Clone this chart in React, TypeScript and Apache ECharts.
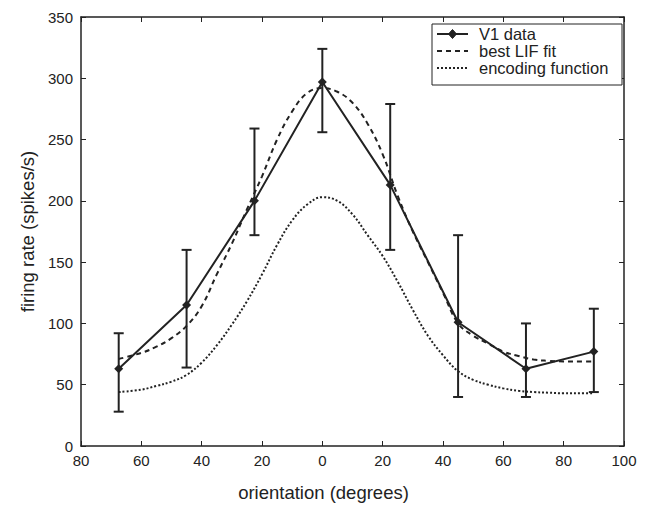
import React, { useEffect, useRef } from "react";
import * as echarts from "echarts";

const xTicks = [-80, -60, -40, -20, 0, 20, 40, 60, 80, 100];
const v1X = [-67.5, -45, -22.5, 0, 22.5, 45, 67.5, 90];
const v1Rate = [63, 115, 200, 297, 213, 101, 63, 77];
const v1Lower = [28, 64, 172, 256, 160, 40, 40, 44];
const v1Upper = [92, 160, 259, 324, 279, 172, 100, 112];

const curveX = [-67.5, -60, -55, -50, -45, -40, -35, -30, -25, -20, -15, -10, -5, 0, 5, 10, 15, 20, 25, 30, 35, 40, 45, 50, 55, 60, 65, 70, 75, 80, 85, 90];
const lifFit = [71, 76, 81, 88, 98, 114, 140, 165, 193, 220, 250, 273, 288, 292, 289, 280, 263, 238, 204, 175, 150, 125, 100, 90, 83.5, 77, 73.5, 70.5, 69.5, 69, 69, 69];
const encoding = [44, 46, 49, 52.5, 58, 68, 82, 99, 118, 140, 164, 184, 197, 203, 200, 189, 172, 155, 134, 111, 90, 74, 61, 54, 50, 47, 45, 44, 43.5, 43, 43, 43];

const legendNames = ["V1 data", "best LIF fit", "encoding function"];

const INK = "#222";
const FONT = "'Liberation Sans', Arial, Helvetica, sans-serif";

export default function App() {
  const ref = useRef<HTMLDivElement>(null);
  useEffect(() => {
    if (!ref.current) return;
    const chart = echarts.init(ref.current, null, { renderer: "svg" });
    const axisCommon = {
      type: "value" as const,
      axisLine: { show: true, onZero: false, lineStyle: { color: INK, width: 1.5 } },
      axisTick: { show: true, inside: true, length: 5, lineStyle: { color: INK, width: 1 } },
      splitLine: { show: false },
    };
    const lx = 437, rx = 468;
    const rows = [34, 51, 68];
    chart.setOption({
      animation: false,
      backgroundColor: "#fff",
      grid: { left: 81, right: 28, top: 17, bottom: 62, containLabel: false },
      xAxis: [
        {
          ...axisCommon,
          position: "bottom",
          min: -80,
          max: 100,
          interval: 20,
          axisLabel: {
            color: INK,
            fontSize: 15,
            fontFamily: FONT,
            margin: 7,
            formatter: (v: number) => String(Math.abs(v)),
            customValues: xTicks,
          },
          name: "orientation (degrees)",
          nameLocation: "middle",
          nameGap: 37,
          nameTextStyle: { color: INK, fontSize: 18.5, fontFamily: FONT, padding: [0, 58, 0, 0] },
        },
        {
          ...axisCommon,
          position: "top",
          min: -80,
          max: 100,
          interval: 20,
          axisLabel: { show: false },
        },
      ],
      yAxis: [
        {
          ...axisCommon,
          position: "left",
          min: 0,
          max: 350,
          interval: 50,
          axisLabel: { color: INK, fontSize: 15, fontFamily: FONT, margin: 8 },
          name: "firing rate (spikes/s)",
          nameLocation: "middle",
          nameGap: 42,
          nameTextStyle: { color: INK, fontSize: 18.5, fontFamily: FONT },
        },
        {
          ...axisCommon,
          position: "right",
          min: 0,
          max: 350,
          interval: 50,
          axisLabel: { show: false },
        },
      ],
      series: [
        {
          name: legendNames[2],
          type: "line",
          data: curveX.map((x, i) => [x, encoding[i]]),
          smooth: 0.4,
          symbol: "none",
          lineStyle: { color: INK, width: 2, type: [2, 2] },
        },
        {
          name: legendNames[1],
          type: "line",
          data: curveX.map((x, i) => [x, lifFit[i]]),
          smooth: 0.4,
          symbol: "none",
          lineStyle: { color: INK, width: 2, type: [5, 4] },
        },
        {
          name: "error",
          type: "custom",
          data: v1X.map((x, i) => [x, v1Lower[i], v1Upper[i]]),
          renderItem: (params: any, api: any) => {
            const x = api.value(0);
            const lo = api.coord([x, api.value(1)]);
            const hi = api.coord([x, api.value(2)]);
            const hw = 5;
            const style = { stroke: INK, lineWidth: 2 };
            return {
              type: "group",
              children: [
                { type: "line", shape: { x1: lo[0], y1: lo[1], x2: hi[0], y2: hi[1] }, style },
                { type: "line", shape: { x1: lo[0] - hw, y1: lo[1], x2: lo[0] + hw, y2: lo[1] }, style },
                { type: "line", shape: { x1: hi[0] - hw, y1: hi[1], x2: hi[0] + hw, y2: hi[1] }, style },
              ],
            };
          },
          z: 3,
        },
        {
          name: legendNames[0],
          type: "line",
          data: v1X.map((x, i) => [x, v1Rate[i]]),
          symbol: "diamond",
          symbolSize: 9,
          itemStyle: { color: INK },
          lineStyle: { color: INK, width: 2 },
          z: 4,
        },
      ],
      graphic: [
        {
          type: "rect",
          shape: { x: 432, y: 24, width: 190, height: 61 },
          style: { fill: "#fff", stroke: INK, lineWidth: 1 },
          z: 10,
        },
        {
          type: "line",
          shape: { x1: lx, y1: rows[0], x2: rx, y2: rows[0] },
          style: { stroke: INK, lineWidth: 2 },
          z: 11,
        },
        {
          type: "polygon",
          shape: { points: [[452.5, rows[0] - 4.5], [456.5, rows[0]], [452.5, rows[0] + 4.5], [448.5, rows[0]]] },
          style: { fill: INK, stroke: INK, lineWidth: 1 },
          z: 11,
        },
        {
          type: "line",
          shape: { x1: lx, y1: rows[1], x2: rx, y2: rows[1] },
          style: { stroke: INK, lineWidth: 2, lineDash: [5, 4] },
          z: 11,
        },
        {
          type: "line",
          shape: { x1: lx, y1: rows[2], x2: rx, y2: rows[2] },
          style: { stroke: INK, lineWidth: 2, lineDash: [2, 2] },
          z: 11,
        },
        ...legendNames.map((n, i) => ({
          type: "text",
          x: 479,
          y: rows[i],
          style: { text: n, fill: INK, fontSize: 16.5, fontFamily: FONT, verticalAlign: "middle", align: "left" },
          z: 11,
        })),
      ],
    });
    return () => chart.dispose();
  }, []);
  return <div ref={ref} style={{ position: "absolute", left: 0, top: 0, width: 652, height: 508 }} />;
}
